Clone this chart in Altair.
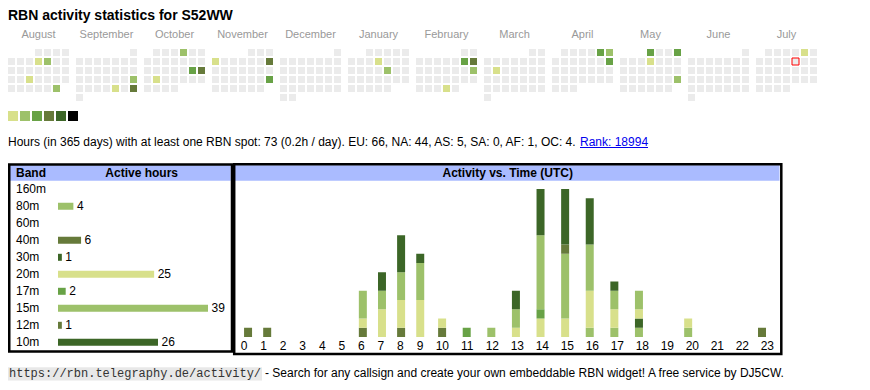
import datetime as dt
import calendar
import altair as alt
import pandas as pd

FONT = "Liberation Sans"
MONO = "Liberation Mono"

# ---------------- data ----------------
TITLE = "RBN activity statistics for S52WW"
months = ["August", "September", "October", "November", "December", "January",
          "February", "March", "April", "May", "June", "July"]
month_years = [2024, 2024, 2024, 2024, 2024, 2025, 2025, 2025, 2025, 2025, 2025, 2025]
month_nums = [8, 9, 10, 11, 12, 1, 2, 3, 4, 5, 6, 7]

active_days = ["2024-08-08", "2024-08-09", "2024-08-21", "2024-08-31",
               "2024-09-22", "2024-09-27", "2024-09-29",
               "2024-10-04", "2024-10-19", "2024-10-20", "2024-10-22",
               "2024-11-04", "2024-11-10", "2024-11-24",
               "2025-01-09", "2025-01-17",
               "2025-02-08", "2025-02-09", "2025-02-16", "2025-02-27",
               "2025-03-11",
               "2025-04-05", "2025-04-06", "2025-04-13",
               "2025-05-01", "2025-05-04", "2025-05-08", "2025-05-25",
               "2025-07-05"]
active_levels = [0, 1, 0, 1,
                 1, 0, 3,
                 1, 2, 3, 0,
                 0, 3, 2,
                 0, 1,
                 2, 3, 1, 0,
                 0,
                 2, 1, 2,
                 2, 2, 0, 1,
                 0]
today = "2025-07-11"

legend_levels = [0, 1, 2, 3, 4, 5]
level_colors = ["#d8e08b", "#9dc16a", "#68a246", "#667a3a", "#3c6627", "#000000"]
empty_color = "#ebebeb"

stats_text = ("Hours (in 365 days) with at least one RBN spot: 73 (0.2h / day). "
              "EU: 66, NA: 44, AS: 5, SA: 0, AF: 1, OC: 4.")
rank_text = "Rank: 18994"

bands = ["160m", "80m", "60m", "40m", "30m", "20m", "17m", "15m", "12m", "10m"]
band_hours = [0, 4, 0, 6, 1, 25, 2, 39, 1, 26]
band_colors = ["#d8e08b", "#9dc16a", "#68a246", "#667a3a", "#3c6627",
               "#d8e08b", "#68a246", "#9dc16a", "#667a3a", "#3c6627"]

hours = list(range(24))
act_160m = [0, 0, 0, 0, 0, 0, 0, 0, 0, 0, 0, 0, 0, 0, 0, 0, 0, 0, 0, 0, 0, 0, 0, 0]
act_80m  = [0, 0, 0, 0, 0, 0, 0, 0, 0, 0, 0, 0, 0, 0, 0, 0, 1, 1, 1, 0, 1, 0, 0, 0]
act_60m  = [0, 0, 0, 0, 0, 0, 0, 0, 0, 0, 0, 0, 0, 0, 0, 0, 0, 0, 0, 0, 0, 0, 0, 0]
act_40m  = [1, 1, 0, 0, 0, 0, 1, 0, 1, 0, 1, 0, 0, 0, 0, 0, 0, 0, 0, 0, 0, 0, 0, 1]
act_30m  = [0, 0, 0, 0, 0, 0, 0, 0, 0, 0, 0, 0, 0, 0, 0, 0, 0, 0, 1, 0, 0, 0, 0, 0]
act_20m  = [0, 0, 0, 0, 0, 0, 1, 3, 3, 4, 1, 0, 0, 1, 2, 2, 4, 2, 1, 0, 1, 0, 0, 0]
act_17m  = [0, 0, 0, 0, 0, 0, 0, 0, 0, 0, 0, 1, 0, 0, 1, 0, 0, 0, 0, 0, 0, 0, 0, 0]
act_15m  = [0, 0, 0, 0, 0, 0, 3, 2, 3, 4, 0, 0, 1, 2, 8, 7, 5, 2, 2, 0, 0, 0, 0, 0]
act_12m  = [0, 0, 0, 0, 0, 0, 0, 0, 0, 0, 0, 0, 0, 0, 0, 1, 0, 0, 0, 0, 0, 0, 0, 0]
act_10m  = [0, 0, 0, 0, 0, 0, 0, 2, 4, 1, 0, 0, 0, 2, 5, 6, 5, 1, 0, 0, 0, 0, 0, 0]
activity = [act_160m, act_80m, act_60m, act_40m, act_30m,
            act_20m, act_17m, act_15m, act_12m, act_10m]

footer_url = "https://rbn.telegraphy.de/activity/"
footer_text = "- Search for any callsign and create your own embeddable RBN widget! A free service by DJ5CW."

# ---------------- tables ----------------
level_of = dict(zip(active_days, active_levels))
rows = []
for name, yr, mn in zip(months, month_years, month_nums):
    first_wd = dt.date(yr, mn, 1).weekday()
    for d in range(1, calendar.monthrange(yr, mn)[1] + 1):
        day = dt.date(yr, mn, d)
        key = day.isoformat()
        rows.append({"month": name, "dow": day.weekday(),
                     "wk": (d - 1 + first_wd) // 7,
                     "level": level_of.get(key, -1),
                     "today": key == today})
cal_df = pd.DataFrame(rows)

act_rows = []
for bi, (b, vals) in enumerate(zip(bands, activity)):
    for h, v in zip(hours, vals):
        if v > 0:
            act_rows.append({"hour": h, "band": b, "count": v, "bidx": bi})
act_df = pd.DataFrame(act_rows)

band_df = pd.DataFrame({"band": bands, "hours": band_hours})
band_nz = band_df[band_df["hours"] > 0]
one = pd.DataFrame({"a": [0]})

# ---------------- shared encodings ----------------
cal_x = alt.X("month:N", axis=None,
              scale=alt.Scale(domain=months, range=[0, 809], paddingInner=7 / 68, paddingOuter=0))
cal_xo = alt.XOffset("dow:O", scale=alt.Scale(domain=list(range(7)), paddingInner=2 / 9, paddingOuter=0))
cal_y = alt.Y("wk:O", axis=None,
              scale=alt.Scale(domain=list(range(6)), range=[41, 93], paddingInner=2 / 9, paddingOuter=0))

band_y_pt = alt.Y("band:N", axis=None,
                  scale=alt.Scale(type="point", domain=bands, range=[181.3, 334.3], padding=0))
band_x = alt.X("hours:Q", axis=None, scale=alt.Scale(domain=[0, 39], range=[50, 200], zero=True, nice=False))
band_color = alt.Color("band:N", legend=None, scale=alt.Scale(domain=bands, range=band_colors))
hour_x = alt.X("hour:Q", axis=None,
               scale=alt.Scale(domain=[-0.5, 9.5, 23.5], range=[226.2, 421.8, 771.8], zero=False, nice=False))


def text_layer(txt, x, y, **kw):
    return alt.Chart(pd.DataFrame({"t": [txt]})).mark_text(font=kw.pop("font", FONT), **kw).encode(
        x=alt.value(x), y=alt.value(y), text="t:N")


def box(x, x2, y, y2, **kw):
    return alt.Chart(one).mark_rect(**kw).encode(
        x=alt.value(x), x2=alt.value(x2), y=alt.value(y), y2=alt.value(y2))


layers = []

# title
layers.append(text_layer(TITLE, 0, 12, align="left", baseline="alphabetic",
                         fontSize=14, fontWeight="bold", color="#000"))

# month labels
layers.append(alt.Chart(pd.DataFrame({"month": months})).mark_text(
    font=FONT, fontSize=11, color="#999999", baseline="alphabetic").encode(
    x=alt.X("month:N", axis=None,
            scale=alt.Scale(type="point", domain=months, range=[30.5, 778.5], padding=0)),
    y=alt.value(30), text="month:N"))

# calendar cells
layers.append(alt.Chart(cal_df).mark_rect().encode(
    x=cal_x, xOffset=cal_xo, y=cal_y,
    color=alt.Color("level:O", legend=None,
                    scale=alt.Scale(domain=[-1] + legend_levels, range=[empty_color] + level_colors))))
layers.append(alt.Chart(cal_df[cal_df["today"]]).mark_rect(
    fillOpacity=0, stroke="#ff0000", strokeWidth=1).encode(x=cal_x, xOffset=cal_xo, y=cal_y))

# level legend squares
layers.append(alt.Chart(pd.DataFrame({"lvl": legend_levels})).mark_rect().encode(
    x=alt.X("lvl:O", axis=None,
            scale=alt.Scale(domain=legend_levels, range=[0, 70], paddingInner=2 / 12, paddingOuter=0)),
    y=alt.value(103), y2=alt.value(113),
    color=alt.Color("lvl:O", legend=None, scale=alt.Scale(domain=legend_levels, range=level_colors))))

# stats line
layers.append(text_layer(stats_text, 0, 138, align="left", baseline="alphabetic", fontSize=12, color="#000"))
layers.append(text_layer(rank_text, 572, 138, align="left", baseline="alphabetic", fontSize=12, color="#0000ee"))
layers.append(alt.Chart(one).mark_rule(color="#0000ee", strokeWidth=1).encode(
    x=alt.value(572), x2=alt.value(640), y=alt.value(139.5)))

# band table box
layers.append(box(2, 222.7, 157.3, 172.7, fill="#aabbff"))
layers.append(box(1.25, 224, 156.5, 343.5, fillOpacity=0, stroke="#000", strokeWidth=2.5))
layers.append(text_layer("Band", 8, 169.3, align="left", baseline="alphabetic",
                         fontSize=12, fontWeight="bold", color="#000"))
layers.append(text_layer("Active hours", 133.7, 169.3, align="center", baseline="alphabetic",
                         fontSize=12, fontWeight="bold", color="#000"))
layers.append(alt.Chart(band_df).mark_text(font=FONT, fontSize=12, align="left", baseline="middle",
                                           color="#000").encode(
    x=alt.value(8), y=band_y_pt, text="band:N"))
layers.append(alt.Chart(band_nz).mark_bar().encode(
    y=alt.Y("band:N", axis=None,
            scale=alt.Scale(type="band", domain=bands, range=[172.8, 342.8],
                            paddingInner=10 / 17, paddingOuter=5 / 17)),
    x=band_x, color=band_color))
layers.append(alt.Chart(band_nz).mark_text(font=FONT, fontSize=12, align="left", baseline="middle",
                                           dx=3.5, color="#000").encode(
    x=band_x, y=band_y_pt, text="hours:Q"))

# activity box
layers.append(box(226.5, 771.5, 157.3, 172.7, fill="#aabbff"))
layers.append(box(226.2, 773.3, 156.3, 346, fillOpacity=0, stroke="#000", strokeWidth=2.5))
layers.append(text_layer("Activity vs. Time (UTC)", 499.7, 169.3, align="center", baseline="alphabetic",
                         fontSize=12, fontWeight="bold", color="#000"))
layers.append(alt.Chart(act_df).mark_bar(size=8).encode(
    x=hour_x,
    y=alt.Y("count:Q", stack="zero", axis=None,
            scale=alt.Scale(domain=[0, 16], range=[329, 181], nice=False)),
    color=band_color,
    order=alt.Order("bidx:Q", sort="ascending")))
layers.append(alt.Chart(pd.DataFrame({"hour": hours})).mark_text(
    font=FONT, fontSize=12, baseline="middle", color="#000").encode(
    x=hour_x, y=alt.value(337.7), text="hour:Q"))

# footer
layers.append(box(0, 254, 359.3, 372.5, fill="#e8e8e8"))
layers.append(text_layer(footer_url, 1, 369, align="left", baseline="alphabetic",
                         fontSize=12, color="#333333", font=MONO))
layers.append(text_layer(footer_text, 257, 369, align="left", baseline="alphabetic",
                         fontSize=12, color="#000"))

chart = alt.layer(*layers).resolve_scale(
    x="independent", y="independent", color="independent", xOffset="independent"
).properties(
    width=854, height=374, autosize="none", padding=0
).configure_view(strokeWidth=0)

chart.save("out.html", embed_options={"renderer": "svg", "actions": False})
